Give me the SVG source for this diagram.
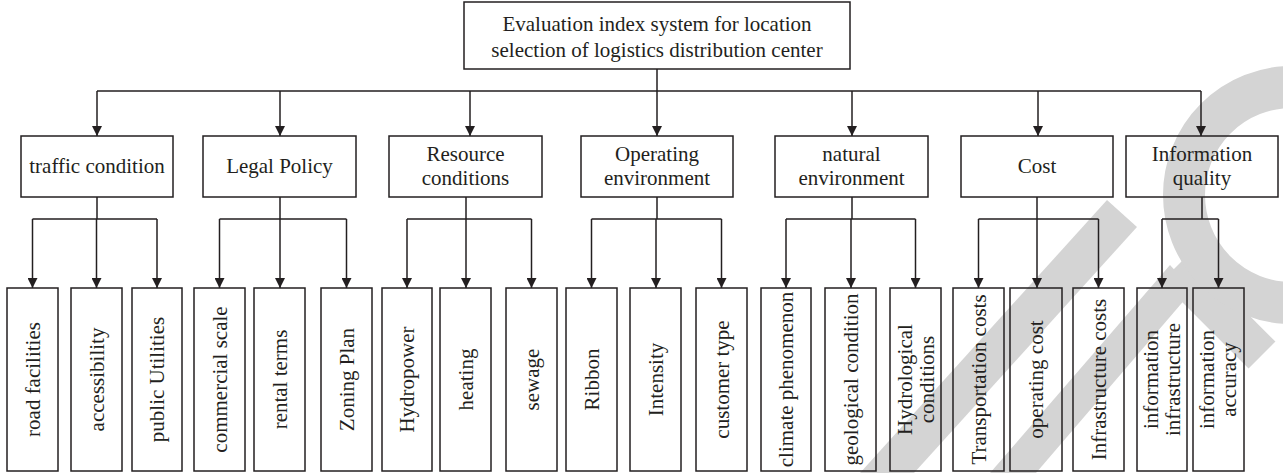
<svg xmlns="http://www.w3.org/2000/svg" width="1283" height="473" viewBox="0 0 1283 473">
<style>
.box{fill:none;stroke:#231f20;stroke-width:1.5}
.ln{fill:none;stroke:#231f20;stroke-width:1.5}
.arr{fill:none;stroke:#231f20;stroke-width:1.5;marker-end:url(#ah)}
text{font-family:"Liberation Serif","Times New Roman",serif;font-size:21px;fill:#231f20;text-anchor:middle}
.wm{fill:#d4d4d4;stroke:none}
.wms{fill:none;stroke:#d4d4d4}
</style>
<defs>
<marker id="ah" markerUnits="userSpaceOnUse" viewBox="0 0 10 10" markerWidth="10" markerHeight="10" refX="10" refY="5" orient="auto">
<path d="M0,0 L10,5 L0,10 z" fill="#231f20"/>
</marker>
</defs>
<rect width="1283" height="473" fill="#fff"/>
<g id="watermark">
<polygon class="wm" points="1107,200 1137,227 914,473 860,473"/>
<polygon class="wm" points="1170,265 1193,290 1036,473 990,473"/>
<path class="wms" d="M1175,268 L1262,355" stroke-width="38"/>
<path class="wms" d="M1292,87 A108,108 0 0 0 1292,303" stroke-width="42"/>
</g>
<g id="connectors">
<path class="ln" d="M657,69 V91 M97,91 H1201"/>
<path class="arr" d="M97,91 V136"/>
<path class="arr" d="M280,91 V136"/>
<path class="arr" d="M470,91 V136"/>
<path class="arr" d="M657,91 V136"/>
<path class="arr" d="M852,91 V136"/>
<path class="arr" d="M1038,91 V136"/>
<path class="arr" d="M1201,91 V136"/>
<path class="ln" d="M97,197 V219 M32.5,219 H157"/>
<path class="ln" d="M280,197 V219 M219.5,219 H346.5"/>
<path class="ln" d="M466,197 V219 M407,219 H531.5"/>
<path class="ln" d="M657,197 V219 M591.5,219 H721.5"/>
<path class="ln" d="M852,197 V219 M786,219 H915.5"/>
<path class="ln" d="M1037,197 V219 M978.5,219 H1098.5"/>
<path class="ln" d="M1202,197 V219 M1162,219 H1218.5"/>
<path class="arr" d="M32.5,219 V288"/>
<path class="arr" d="M96.5,219 V288"/>
<path class="arr" d="M157,219 V288"/>
<path class="arr" d="M219.5,219 V288"/>
<path class="arr" d="M280,219 V288"/>
<path class="arr" d="M346.5,219 V288"/>
<path class="arr" d="M407,219 V288"/>
<path class="arr" d="M466,219 V288"/>
<path class="arr" d="M531.5,219 V288"/>
<path class="arr" d="M591.5,219 V288"/>
<path class="arr" d="M656,219 V288"/>
<path class="arr" d="M721.5,219 V288"/>
<path class="arr" d="M786,219 V288"/>
<path class="arr" d="M851,219 V288"/>
<path class="arr" d="M915.5,219 V288"/>
<path class="arr" d="M978.5,219 V288"/>
<path class="arr" d="M1037,219 V288"/>
<path class="arr" d="M1098.5,219 V288"/>
<path class="arr" d="M1162,219 V288"/>
<path class="arr" d="M1218.5,219 V288"/>
</g>
<g id="root">
<rect class="box" x="464" y="2" width="386" height="67"/>
<text x="657" y="30.5">Evaluation index system for location</text>
<text x="657" y="56.5">selection of logistics distribution center</text>
</g>
<g id="n-traffic"><rect class="box" x="21" y="136" width="152" height="61"/><text x="97" y="173">traffic condition</text></g>
<g id="n-legal"><rect class="box" x="203" y="136" width="153" height="61"/><text x="279.5" y="173">Legal Policy</text></g>
<g id="n-resource"><rect class="box" x="389" y="136" width="153" height="61"/><text x="465.5" y="161">Resource</text><text x="465.5" y="185">conditions</text></g>
<g id="n-operating"><rect class="box" x="581" y="136" width="152" height="61"/><text x="657" y="161">Operating</text><text x="657" y="185">environment</text></g>
<g id="n-natural"><rect class="box" x="775" y="136" width="153" height="61"/><text x="851.5" y="161">natural</text><text x="851.5" y="185">environment</text></g>
<g id="n-cost"><rect class="box" x="961" y="136" width="152" height="61"/><text x="1037" y="173">Cost</text></g>
<g id="n-info"><rect class="box" x="1126" y="136" width="152" height="61"/><text x="1202" y="161">Information</text><text x="1202" y="185">quality</text></g>
<g id="l1"><rect class="box" x="7" y="288" width="51" height="183"/><text transform="translate(39.5,379.5) rotate(-90)">road facilities</text></g>
<g id="l2"><rect class="box" x="71" y="288" width="51" height="183"/><text transform="translate(103.5,379.5) rotate(-90)">accessibility</text></g>
<g id="l3"><rect class="box" x="132" y="288" width="50" height="183"/><text transform="translate(164,379.5) rotate(-90)">public Utilities</text></g>
<g id="l4"><rect class="box" x="194" y="288" width="51" height="183"/><text transform="translate(226.5,379.5) rotate(-90)">commercial scale</text></g>
<g id="l5"><rect class="box" x="254" y="288" width="51" height="183"/><text transform="translate(286.5,379.5) rotate(-90)">rental terms</text></g>
<g id="l6"><rect class="box" x="321" y="288" width="51" height="183"/><text transform="translate(353.5,379.5) rotate(-90)">Zoning Plan</text></g>
<g id="l7"><rect class="box" x="382" y="288" width="50" height="183"/><text transform="translate(414,379.5) rotate(-90)">Hydropower</text></g>
<g id="l8"><rect class="box" x="440" y="288" width="51" height="183"/><text transform="translate(472.5,379.5) rotate(-90)">heating</text></g>
<g id="l9"><rect class="box" x="506" y="288" width="51" height="183"/><text transform="translate(538.5,379.5) rotate(-90)">sewage</text></g>
<g id="l10"><rect class="box" x="566" y="288" width="51" height="183"/><text transform="translate(598.5,379.5) rotate(-90)">Ribbon</text></g>
<g id="l11"><rect class="box" x="630" y="288" width="51" height="183"/><text transform="translate(662.5,379.5) rotate(-90)">Intensity</text></g>
<g id="l12"><rect class="box" x="696" y="288" width="51" height="183"/><text transform="translate(728.5,379.5) rotate(-90)">customer type</text></g>
<g id="l13"><rect class="box" x="761" y="288" width="50" height="183"/><text transform="translate(793,379.5) rotate(-90)">climate phenomenon</text></g>
<g id="l14"><rect class="box" x="825" y="288" width="51" height="183"/><text transform="translate(857.5,379.5) rotate(-90)">geological condition</text></g>
<g id="l15"><rect class="box" x="890" y="288" width="51" height="183"/><text transform="translate(911.5,379.5) rotate(-90)"><tspan x="0" y="0">Hydrological</tspan><tspan x="0" y="22">conditions</tspan></text></g>
<g id="l16"><rect class="box" x="953" y="288" width="51" height="183"/><text transform="translate(985.5,379.5) rotate(-90)">Transportation costs</text></g>
<g id="l17"><rect class="box" x="1010" y="288" width="52" height="183"/><text transform="translate(1043,379.5) rotate(-90)">operating cost</text></g>
<g id="l18"><rect class="box" x="1073" y="288" width="51" height="183"/><text transform="translate(1105.5,379.5) rotate(-90)">Infrastructure costs</text></g>
<g id="l19"><rect class="box" x="1137" y="288" width="50" height="183"/><text transform="translate(1157.5,379.5) rotate(-90)"><tspan x="0" y="0">information</tspan><tspan x="0" y="22">infrastructure</tspan></text></g>
<g id="l20"><rect class="box" x="1193" y="288" width="51" height="183"/><text transform="translate(1214,379.5) rotate(-90)"><tspan x="0" y="0">information</tspan><tspan x="0" y="22">accuracy</tspan></text></g>
</svg>
